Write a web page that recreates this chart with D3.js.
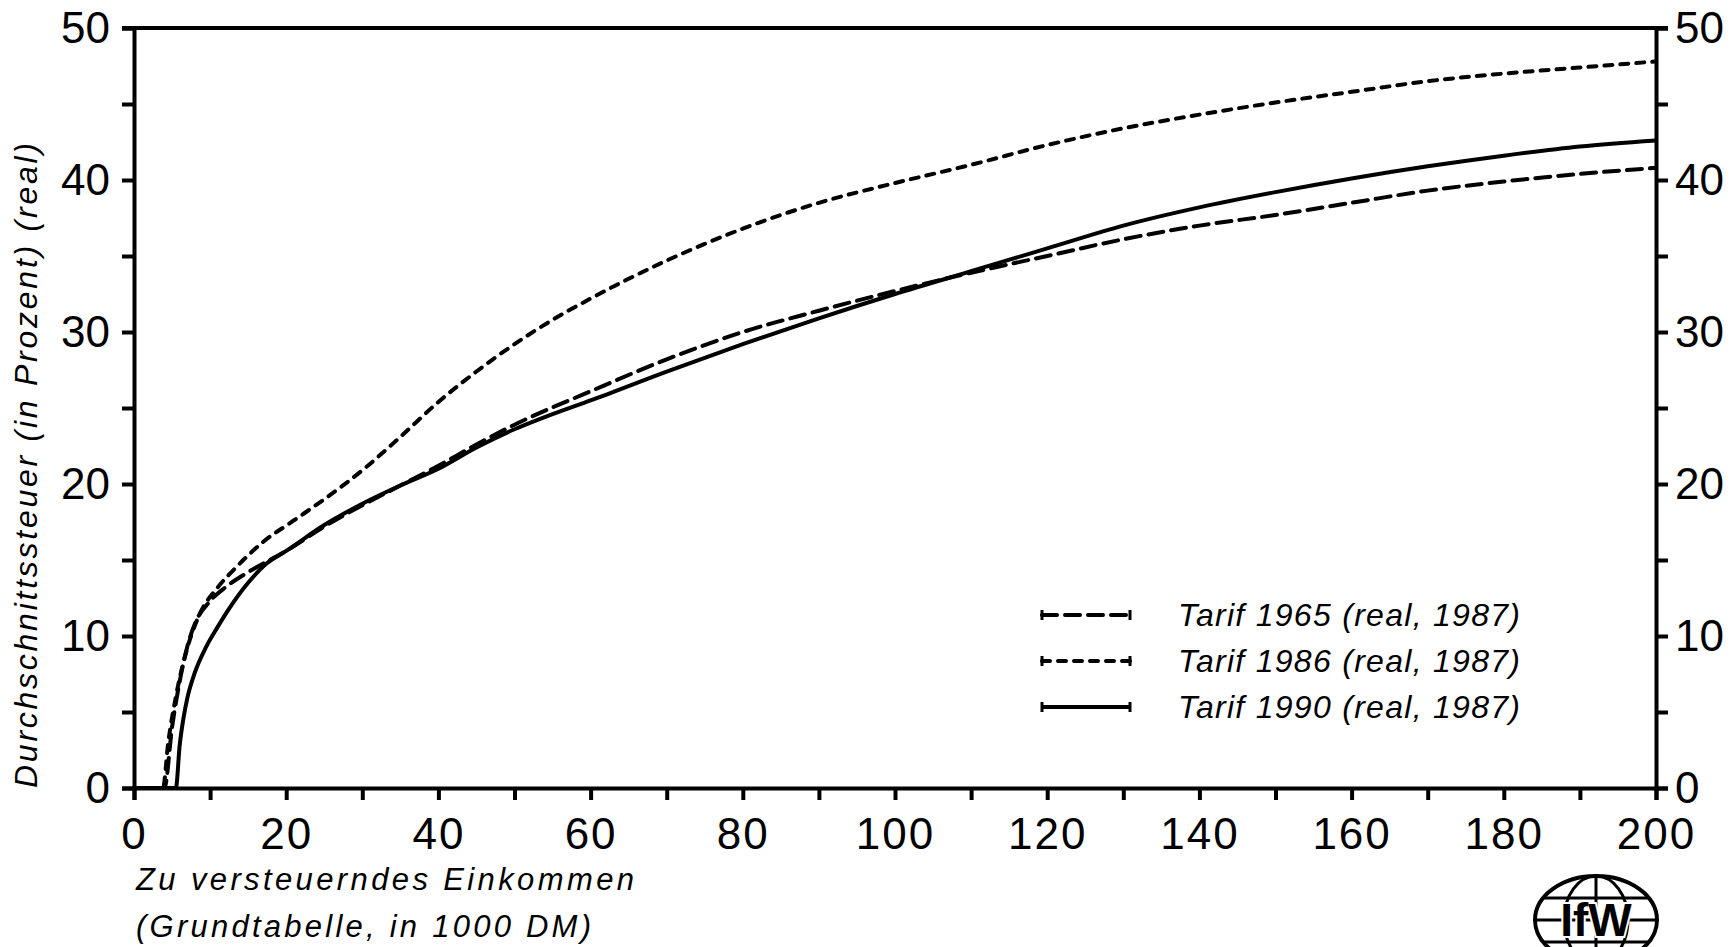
<!DOCTYPE html>
<html>
<head>
<meta charset="utf-8">
<script src="https://cdn.jsdelivr.net/npm/d3@7"></script>
<style>
  body { margin: 0; background: #fff; }
  svg { display: block; }
  .axis text { font-family: "Liberation Sans", Arial, sans-serif; font-size: 44px; fill: #000; }
  .axis path, .axis line { stroke: #000; stroke-width: 4px; }
  .title { font-family: "Liberation Sans", Arial, sans-serif; font-style: italic; fill: #000; }
</style>
</head>
<body>
<div class="chart"></div>
<script>
// average tax rate (%) over taxable income (1000 DM)
const tarif1965 = [[0, 0], [4, 0], [5, 4], [6, 7], [7, 9.3], [8, 10.8], [10, 12.3], [12, 13.2], [15, 14.2],
    [20, 15.6], [25, 17.2], [30, 18.6], [35, 19.9], [40, 21.2], [45, 22.6], [50, 23.9], [60, 26.1],
    [70, 28.2], [80, 30.0], [90, 31.4], [100, 32.7], [110, 33.9], [120, 35.0], [130, 36.1], [140, 37.0],
    [150, 37.7], [160, 38.5], [170, 39.3], [180, 39.9], [190, 40.4], [200, 40.8]];

const tarif1986 = [[0, 0], [3.8, 0], [4.5, 3], [5.5, 6], [7, 9.2], [8.5, 11.3], [11, 13.2], [13, 14.3],
    [17, 16.2], [21, 17.6], [25, 19.0], [30, 20.9], [35, 23.1], [40, 25.4], [45, 27.4], [50, 29.2],
    [55, 30.8], [60, 32.2], [65, 33.5], [70, 34.7], [75, 35.8], [80, 36.8], [90, 38.5], [100, 39.8],
    [110, 41.0], [120, 42.3], [130, 43.4], [140, 44.3], [150, 45.1], [160, 45.8], [170, 46.5],
    [180, 47.0], [190, 47.4], [200, 47.8]];

const tarif1990 = [[0, 0], [5.5, 0], [6, 2.8], [6.5, 4.6], [7, 5.9], [8, 7.6], [9.5, 9.3], [11, 10.6],
    [12.5, 11.8], [15, 13.5], [17.5, 14.8], [20, 15.6], [25, 17.3], [30, 18.7], [35, 19.9], [40, 21.0],
    [45, 22.4], [50, 23.6], [55, 24.6], [60, 25.5], [70, 27.4], [80, 29.2], [90, 30.9], [100, 32.5],
    [110, 34.0], [120, 35.5], [130, 37.0], [140, 38.2], [150, 39.2], [160, 40.1], [170, 40.9],
    [180, 41.6], [190, 42.2], [200, 42.6]];

const seriesNames = ["Tarif 1965 (real, 1987)", "Tarif 1986 (real, 1987)", "Tarif 1990 (real, 1987)"];
const seriesData = [tarif1965, tarif1986, tarif1990];
const seriesDash = ["15,8", "8,8", null];

const xTicks = [0, 10, 20, 30, 40, 50, 60, 70, 80, 90, 100, 110, 120, 130, 140, 150, 160, 170, 180, 190, 200];
const xTickLabels = [0, 20, 40, 60, 80, 100, 120, 140, 160, 180, 200];
const yTicks = [0, 5, 10, 15, 20, 25, 30, 35, 40, 45, 50];
const yTickLabels = [0, 10, 20, 30, 40, 50];

const width = 1733, height = 947;

const svg = d3.select(".chart")
    .append("svg")
    .attr("width", width)
    .attr("height", height);

const x = d3.scaleLinear().domain([0, 200]).range([134, 1656]);
const y = d3.scaleLinear().domain([0, 50]).range([788, 28]);

// axes
svg.append("g")
    .attr("class", "axis")
    .attr("transform", `translate(0,${y(0)})`)
    .call(d3.axisBottom(x).tickValues(xTicks).tickSize(12).tickPadding(18)
        .tickFormat(d => xTickLabels.includes(d) ? d : ""))
    .selectAll("text")
    .style("letter-spacing", "2px");

svg.append("g")
    .attr("class", "axis")
    .attr("transform", `translate(${x(0)},0)`)
    .call(d3.axisLeft(y).tickValues(yTicks).tickSize(12).tickPadding(12)
        .tickFormat(d => yTickLabels.includes(d) ? d : ""));

svg.append("g")
    .attr("class", "axis")
    .attr("transform", `translate(${x(200)},0)`)
    .call(d3.axisRight(y).tickValues(yTicks).tickSize(12).tickPadding(7)
        .tickFormat(d => yTickLabels.includes(d) ? d : ""));

// top frame line
svg.append("line")
    .attr("x1", x(0) - 12).attr("x2", x(200) + 12)
    .attr("y1", y(50)).attr("y2", y(50))
    .attr("stroke", "#000")
    .attr("stroke-width", 4);

// curves
const line = d3.line()
    .x(d => x(d[0]))
    .y(d => y(d[1]))
    .curve(d3.curveMonotoneX);

seriesData.forEach((s, i) => {
    svg.append("path")
        .datum(s)
        .attr("d", line)
        .attr("fill", "none")
        .attr("stroke", "#000")
        .attr("stroke-width", 4)
        .attr("stroke-linecap", seriesDash[i] ? "round" : "butt")
        .attr("stroke-dasharray", seriesDash[i]);
});

// legend
const legend = svg.append("g");
seriesNames.forEach((name, i) => {
    const ly = 615 + i * 46;
    legend.append("line")
        .attr("x1", 1042).attr("x2", 1130)
        .attr("y1", ly).attr("y2", ly)
        .attr("stroke", "#000")
        .attr("stroke-width", 4)
        .attr("stroke-linecap", seriesDash[i] ? "round" : "butt")
        .attr("stroke-dasharray", seriesDash[i]);
    [1042, 1130].forEach(ex => {
        legend.append("line")
            .attr("x1", ex).attr("x2", ex)
            .attr("y1", ly - 5).attr("y2", ly + 5)
            .attr("stroke", "#000")
            .attr("stroke-width", 3);
    });
    legend.append("text")
        .attr("class", "title")
        .attr("x", 1178)
        .attr("y", ly + 11)
        .attr("textLength", 342)
        .attr("lengthAdjust", "spacing")
        .style("font-size", "32px")
        .text(name);
});

// axis titles
svg.append("text")
    .attr("class", "title")
    .attr("x", 136).attr("y", 890)
    .attr("textLength", 498)
    .attr("lengthAdjust", "spacing")
    .style("font-size", "31px")
    .text("Zu versteuerndes Einkommen");

svg.append("text")
    .attr("class", "title")
    .attr("x", 136).attr("y", 937)
    .attr("textLength", 455)
    .attr("lengthAdjust", "spacing")
    .style("font-size", "31px")
    .text("(Grundtabelle, in 1000 DM)");

svg.append("text")
    .attr("class", "title")
    .attr("transform", "translate(37,788) rotate(-90)")
    .attr("textLength", 645)
    .attr("lengthAdjust", "spacing")
    .style("font-size", "32px")
    .text("Durchschnittssteuer (in Prozent) (real)");

// IfW logo, bottom right
const logo = svg.append("g").attr("transform", "translate(1596,920)");
logo.append("ellipse").attr("rx", 61).attr("ry", 44)
    .attr("fill", "none").attr("stroke", "#000").attr("stroke-width", 4);
logo.append("ellipse").attr("rx", 32).attr("ry", 44)
    .attr("fill", "none").attr("stroke", "#000").attr("stroke-width", 3);
logo.append("line").attr("x1", 0).attr("x2", 0).attr("y1", -44).attr("y2", 44)
    .attr("stroke", "#000").attr("stroke-width", 3);
[-22, 0, 22].forEach(ly => {
    const half = 61 * Math.sqrt(1 - (ly / 44) * (ly / 44));
    logo.append("line").attr("x1", -half).attr("x2", half).attr("y1", ly).attr("y2", ly)
        .attr("stroke", "#000").attr("stroke-width", 3);
});
logo.append("text")
    .attr("text-anchor", "middle")
    .attr("y", 16)
    .style("font-family", "'Liberation Sans', Arial, sans-serif")
    .style("font-weight", "bold")
    .style("font-size", "46px")
    .style("paint-order", "stroke")
    .attr("stroke", "#fff")
    .attr("stroke-width", 4)
    .attr("fill", "#000")
    .text("IfW");
</script>
</body>
</html>
